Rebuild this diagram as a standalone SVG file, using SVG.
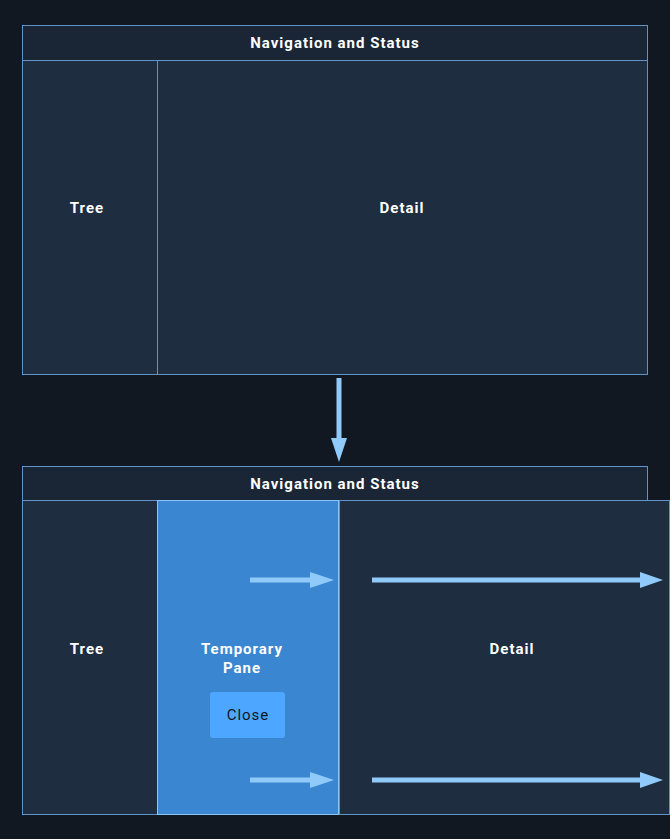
<svg xmlns="http://www.w3.org/2000/svg" width="670" height="839" viewBox="0 0 670 839">
<defs>
<style>
.hdr{fill:#1a2535;stroke:#5f93c9;stroke-width:1}
.pane{fill:#1e2d40;stroke:#5f93c9;stroke-width:1}
.tmp{fill:#3a86d0;stroke:#8cc4f5;stroke-width:1}
.lbl{font-family:Roboto,"Liberation Sans",sans-serif;font-size:15px;font-weight:bold;letter-spacing:1px;fill:#ffffff;text-anchor:middle;dominant-baseline:central}
.btn{font-family:Roboto,"Liberation Sans",sans-serif;font-size:15px;letter-spacing:1px;fill:#0f1722;text-anchor:middle;dominant-baseline:central}
.shaft{stroke:#90caf9;stroke-width:5;fill:none}
.head{fill:#90caf9}
</style>
</defs>
<rect width="670" height="839" fill="#121822"/>
<g id="top-header"><rect class="hdr" x="22.5" y="25.5" width="625" height="35"/><text class="lbl" x="335" y="43">Navigation and Status</text></g>
<g id="top-tree"><rect class="pane" x="22.5" y="60.5" width="135" height="314"/><text class="lbl" x="87" y="208">Tree</text></g>
<g id="top-detail"><rect class="pane" x="157.5" y="60.5" width="490" height="314"/><text class="lbl" x="402" y="208">Detail</text></g>
<g id="bottom-header"><rect class="hdr" x="22.5" y="466.5" width="625" height="34"/><text class="lbl" x="335" y="484">Navigation and Status</text></g>
<g id="bottom-tree"><rect class="pane" x="22.5" y="500.5" width="135" height="314"/><text class="lbl" x="87" y="649">Tree</text></g>
<g id="bottom-detail"><rect class="pane" x="339.5" y="500.5" width="330" height="314"/><text class="lbl" x="512" y="649">Detail</text></g>
<g id="temporary-pane"><rect class="tmp" x="157.5" y="500.5" width="181" height="314"/><text class="lbl" x="242" y="649">Temporary</text><text class="lbl" x="242" y="668">Pane</text></g>
<g id="close-button"><rect x="210" y="692" width="75" height="46" rx="3" fill="#4da6ff"/><text class="btn" x="248" y="715">Close</text></g>
<g id="connectors">
<line class="shaft" x1="339" y1="378" x2="339" y2="440"/><polygon class="head" points="331,438 347,438 339,462"/>
<line class="shaft" x1="250" y1="580" x2="312" y2="580"/><polygon class="head" points="310,572 310,588 334,580"/>
<line class="shaft" x1="372" y1="580" x2="642" y2="580"/><polygon class="head" points="640,572 640,588 663,580"/>
<line class="shaft" x1="250" y1="780" x2="312" y2="780"/><polygon class="head" points="310,772 310,788 334,780"/>
<line class="shaft" x1="372" y1="780" x2="642" y2="780"/><polygon class="head" points="640,772 640,788 663,780"/>
</g>
</svg>
